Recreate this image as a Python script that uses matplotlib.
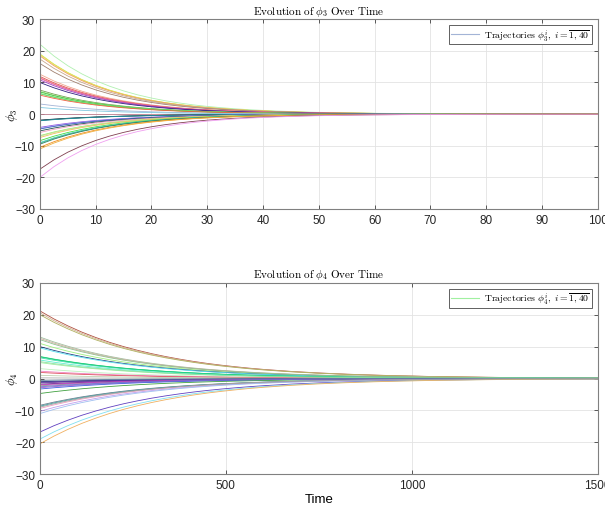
import matplotlib
matplotlib.use("Agg")
import matplotlib.pyplot as plt
from matplotlib.lines import Line2D
import numpy as np

plt.rcParams["mathtext.fontset"] = "cm"
plt.rcParams["font.family"] = ["Liberation Sans", "DejaVu Sans"]

# decay profiles (value relative to t=0)
t3 = [0, 2.5, 5, 7.5, 10, 12.5, 15, 17.5, 20, 22.5, 25, 27.5, 30, 32.5, 35, 37.5,
      40, 42.5, 45, 47.5, 50, 55, 60, 65, 70, 75, 80, 85, 90, 95, 100]
decay3 = [1.0, 0.832, 0.692, 0.576, 0.479, 0.399, 0.332, 0.276, 0.230, 0.191, 0.159,
          0.132, 0.110, 0.092, 0.076, 0.063, 0.053, 0.044, 0.037, 0.030, 0.025,
          0.0175, 0.012, 0.0084, 0.0058, 0.004, 0.0028, 0.0019, 0.0013, 0.0009, 0.0006]

t4 = [0, 37.5, 75, 112.5, 150, 187.5, 225, 262.5, 300, 337.5, 375, 412.5, 450, 487.5,
      525, 562.5, 600, 675, 750, 825, 900, 975, 1050, 1125, 1200, 1275, 1350, 1425, 1500]
decay4 = [1.0, 0.882, 0.779, 0.687, 0.607, 0.535, 0.472, 0.417, 0.368, 0.325, 0.287,
          0.253, 0.223, 0.197, 0.174, 0.153, 0.135, 0.105, 0.082, 0.064, 0.050, 0.039,
          0.030, 0.024, 0.018, 0.014, 0.011, 0.009, 0.007]

# initial values of the 40 trajectories
phi3_init = [3.2, 22.1, 19.0, 18.8, 18.4, 17.4, 16.0, 12.6, 11.9, 11.5,
             11.3, 10.8, 10.0, 7.6, 7.2, 7.0, 6.6, 6.4, 6.0, 2.1,
             0.0, -1.9, -2.0, -2.1, -4.2, -4.5, -4.7, -5.3, -5.8, -6.8,
             -7.0, -7.4, -8.4, -9.0, -9.2, -9.5, -10.5, -11.0, -17.4, -20.0]
phi3_colors = ["#a3b4d6", "#b0f0b0", "#c8e840", "#e8e060", "#f0a060", "#c8a890",
               "#a08070", "#f0a890", "#e05050", "#f08080", "#e060a0", "#a040c0",
               "#302080", "#70a050", "#a0e080", "#40c040", "#80f080", "#60d060",
               "#f06040", "#80c8e0", "#c08090", "#102040", "#306050", "#2090a0",
               "#9050e0", "#a0a0f0", "#4060c0", "#205050", "#f0a0c0", "#a0f060",
               "#c0e0a0", "#f0c060", "#40e040", "#60d0c0", "#40c0a0", "#308060",
               "#f09020", "#f0b040", "#804050", "#f0a0f0"]

phi4_init = [5.0, 21.2, 20.6, 20.0, 13.0, 12.6, 11.0, 10.0, 9.6, 6.8,
             6.5, 5.8, 3.1, 2.3, 1.9, 1.0, 0.2, -1.0, -1.4, -1.8,
             -2.3, -2.9, -3.3, -4.7, -8.4, -8.7, -9.4, -10.3, -11.0, -16.8,
             -19.0, -20.5, 6.9, 5.3, -1.2, -2.0, -2.6, -0.6, 12.2, -9.0]
phi4_colors = ["#a0f0a0", "#b05040", "#d0b090", "#b0b060", "#a0c0a0", "#d0b0a0",
               "#a0f080", "#204080", "#60e0f0", "#20c060", "#40e0b0", "#60f0d0",
               "#c0f0c0", "#f080c0", "#e05060", "#c0d0b0", "#b0b0b0", "#203070",
               "#8040a0", "#502080", "#909090", "#a060d0", "#4060e0", "#40a040",
               "#708090", "#40a0a0", "#f0a0c0", "#c0a0f0", "#a0c0f0", "#6040c0",
               "#80e0f0", "#f0b060", "#20d080", "#90e0a0", "#5030a0", "#c040c0",
               "#7070d0", "#6080a0", "#90c090", "#a0a0a0"]

fig = plt.figure(figsize=(6.05, 5.06), dpi=100)
ax1 = fig.add_axes([0.066, 0.585, 0.922, 0.375])
ax2 = fig.add_axes([0.066, 0.061, 0.922, 0.378])

d3 = np.array(decay3)
for v, c in zip(phi3_init, phi3_colors):
    ax1.plot(t3, v * d3, color=c, lw=0.6)
d4 = np.array(decay4)
for v, c in zip(phi4_init, phi4_colors):
    ax2.plot(t4, v * d4, color=c, lw=0.6)


def style(ax, xmax, xticks, label, title, legcolor, legtext):
    ax.set_xlim(0, xmax)
    ax.set_ylim(-30, 30)
    ax.set_xticks(xticks)
    ax.set_yticks([-30, -20, -10, 0, 10, 20, 30])
    ax.grid(True, color="#e3e3e3", lw=0.6)
    ax.set_axisbelow(True)
    for s in ax.spines.values():
        s.set_color("#808080")
        s.set_linewidth(0.8)
    ax.tick_params(direction="in", top=True, right=True, length=3,
                   color="#404040", labelsize=8.5, labelcolor="#262626", width=0.6)
    ax.set_ylabel(label, fontsize=9)
    ax.yaxis.set_label_coords(-0.036, 0.5)
    ax.set_title(title, fontsize=8, pad=4)
    h = Line2D([0], [0], color=legcolor, lw=0.8)
    leg = ax.legend([h], [legtext], loc="upper right", fontsize=7, fancybox=False,
                    framealpha=1, edgecolor="#606060", handlelength=2.9,
                    handletextpad=0.5, borderpad=0.2, borderaxespad=0.6)
    leg.get_frame().set_linewidth(0.7)


style(ax1, 100, range(0, 101, 10), r"$\phi_3$",
      r"$\mathrm{Evolution\ of\ }\phi_3\mathrm{\ Over\ Time}$", phi3_colors[0],
      r"$\mathrm{Trajectories\ }\phi_3^i,\ i=\overline{1,40}$")
style(ax2, 1500, [0, 500, 1000, 1500], r"$\phi_4$",
      r"$\mathrm{Evolution\ of\ }\phi_4\mathrm{\ Over\ Time}$", phi4_colors[0],
      r"$\mathrm{Trajectories\ }\phi_4^i,\ i=\overline{1,40}$")
ax2.set_xlabel("Time", fontsize=9.5)
ax2.xaxis.set_label_coords(0.5, -0.1)

fig.savefig("out.png", dpi=100)
